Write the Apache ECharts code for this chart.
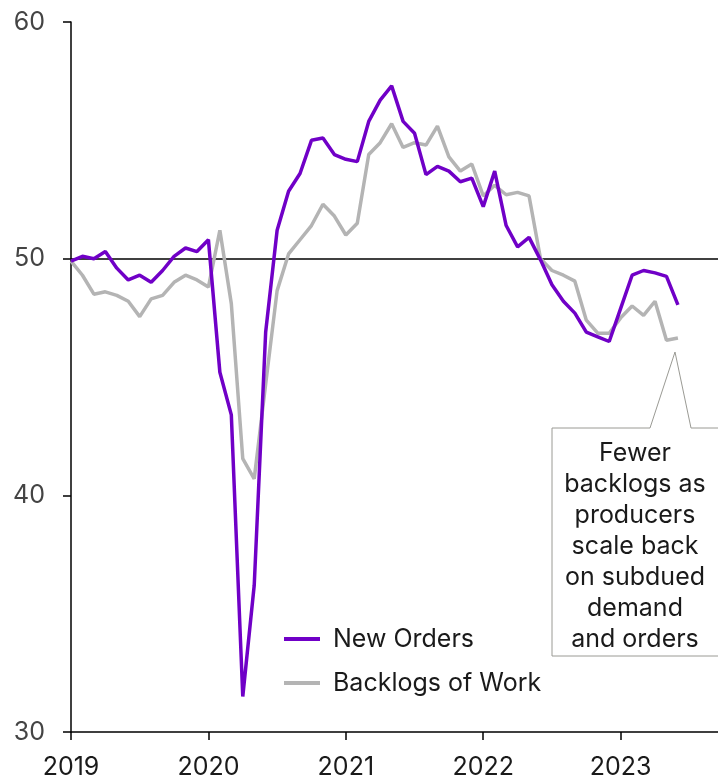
<!DOCTYPE html>
<html>
<head>
<meta charset="utf-8">
<script src="https://cdn.jsdelivr.net/npm/echarts@6/dist/echarts.min.js"></script>
<style>
  html, body { margin: 0; padding: 0; background: #fff; }
  #chart { width: 718px; height: 780px; }
</style>
</head>
<body>
<div id="chart"></div>
<script>
// Monthly diffusion indices, Jan 2019 - Jun 2023 (month index 0 = Jan 2019)
const startYear = 2019;
const yearTicks = [0, 12, 24, 36, 48];

const newOrders = [
  49.9, 50.1, 50.0, 50.3, 49.6, 49.1, 49.3, 49.0, 49.5, 50.1, 50.45, 50.3,
  50.8, 45.2, 43.4, 31.5, 36.2, 46.9, 51.2, 52.85, 53.6, 55.0, 55.1, 54.4,
  54.2, 54.1, 55.8, 56.7, 57.3, 55.8, 55.3, 53.55, 53.9, 53.7, 53.25, 53.4,
  52.2, 53.7, 51.4, 50.5, 50.9, 49.95, 48.9, 48.2, 47.7, 46.9, 46.7, 46.5,
  47.9, 49.3, 49.5, 49.4, 49.25, 48.05
];

const backlogs = [
  49.9, 49.3, 48.5, 48.6, 48.45, 48.2, 47.55, 48.3, 48.45, 49.0, 49.3, 49.1,
  48.8, 51.2, 48.1, 41.55, 40.7, 44.7, 48.65, 50.2, 50.8, 51.4, 52.3, 51.8,
  51.0, 51.5, 54.4, 54.9, 55.7, 54.7, 54.9, 54.8, 55.6, 54.3, 53.7, 54.0,
  52.65, 53.1, 52.7, 52.8, 52.65, 50.0, 49.5, 49.3, 49.05, 47.4, 46.85, 46.85,
  47.5, 48.0, 47.6, 48.2, 46.55, 46.65
];

const seriesNames = ['New Orders', 'Backlogs of Work'];
const seriesColors = ['#7000C7', '#B4B4B4'];
const calloutLines = ['Fewer', 'backlogs as', 'producers', 'scale back', 'on subdued', 'demand', 'and orders'];

const FONT = 'Inter, Roboto, sans-serif';
const FONT_SIZE = 25;

const toPairs = arr => arr.map((v, i) => [i, v]);

const chart = echarts.init(document.getElementById('chart'), null, { renderer: 'canvas' });

chart.setOption({
  animation: false,
  backgroundColor: '#ffffff',
  grid: { left: 71, right: 0, top: 22, bottom: 47 },
  xAxis: {
    type: 'value',
    min: 0,
    max: 56.5,
    interval: 12,
    splitLine: { show: false },
    axisLine: { lineStyle: { color: '#000', width: 1.5 } },
    axisTick: { show: true, length: 8, lineStyle: { color: '#000', width: 1.5 }, customValues: yearTicks },
    axisLabel: {
      customValues: yearTicks,
      formatter: v => String(startYear + Math.round(v / 12)),
      color: '#1a1a1a',
      fontSize: FONT_SIZE,
      fontFamily: FONT,
      margin: 23
    }
  },
  yAxis: {
    type: 'value',
    min: 30,
    max: 60,
    interval: 10,
    splitLine: { show: false },
    axisLine: { show: true, lineStyle: { color: '#000', width: 1.5 } },
    axisTick: { show: true, length: 8, lineStyle: { color: '#000', width: 1.5 } },
    axisLabel: { color: '#444', fontSize: FONT_SIZE, fontFamily: FONT, margin: 26 }
  },
  legend: {
    orient: 'vertical',
    left: 279,
    top: 619,
    icon: 'rect',
    itemWidth: 36,
    itemHeight: 4,
    itemGap: 14,
    textStyle: { color: '#1a1a1a', fontSize: FONT_SIZE, fontFamily: FONT, lineHeight: 30, padding: [0, 0, 0, 8] },
    data: seriesNames
  },
  series: [
    {
      name: seriesNames[1],
      type: 'line',
      data: toPairs(backlogs),
      showSymbol: false,
      symbol: 'none',
      lineStyle: { color: seriesColors[1], width: 3.5 },
      itemStyle: { color: seriesColors[1] },
      z: 2
    },
    {
      name: seriesNames[0],
      type: 'line',
      data: toPairs(newOrders),
      showSymbol: false,
      symbol: 'none',
      lineStyle: { color: seriesColors[0], width: 3.5 },
      itemStyle: { color: seriesColors[0] },
      z: 3,
      markLine: {
        silent: true,
        symbol: 'none',
        label: { show: false },
        lineStyle: { color: '#000', width: 1.5, type: 'solid' },
        data: [{ yAxis: 50 }],
        z: 1
      }
    }
  ],
  graphic: [
    {
      type: 'polygon',
      shape: { points: [[552, 428], [650, 428], [675, 352], [691, 428], [722, 428], [722, 656], [552, 656]] },
      style: { fill: '#fff', stroke: '#9a9a94', lineWidth: 1 },
      z: 10
    },
    {
      type: 'text',
      x: 635,
      y: 438,
      z: 11,
      style: {
        text: calloutLines.join('\n'),
        align: 'center',
        verticalAlign: 'top',
        fill: '#1a1a1a',
        fontSize: FONT_SIZE,
        fontFamily: FONT,
        lineHeight: 31
      }
    }
  ]
});
</script>
</body>
</html>
